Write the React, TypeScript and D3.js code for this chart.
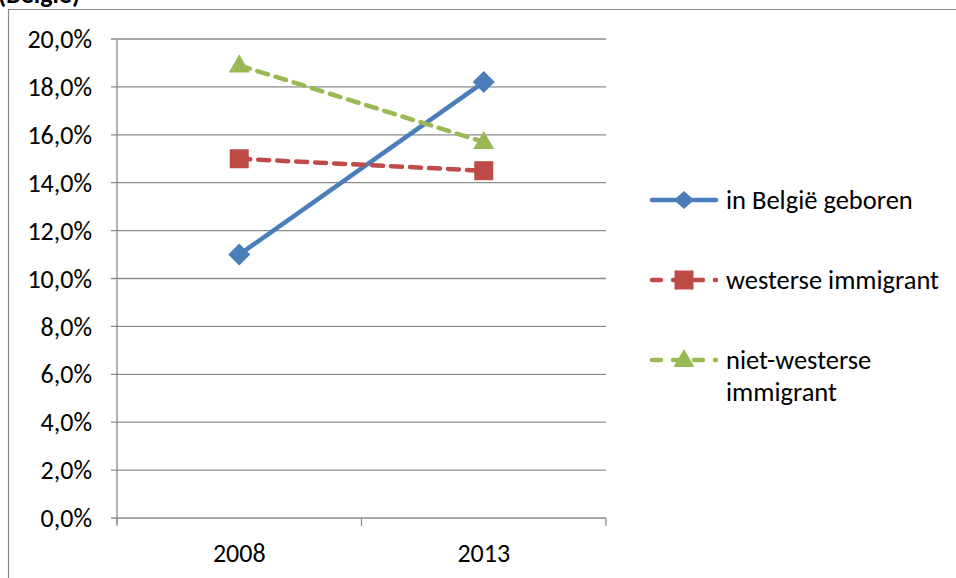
import React from "react";
import * as d3 from "d3";

const categories = ["2008", "2013"];
const seriesNames = ["in België geboren", "westerse immigrant", "niet-westerse immigrant"];
const belgieGeboren = [11.0, 18.2];
const westerseImmigrant = [15.0, 14.5];
const nietWesterseImmigrant = [18.9, 15.7];
const yTicks = [0, 2, 4, 6, 8, 10, 12, 14, 16, 18, 20];
const titleText = "(België)";

const W = 956;
const H = 578;
const FONT = "Calibri, Carlito, 'Open Sans', 'Liberation Sans', sans-serif";

export default function App() {
  const x = d3.scaleBand<string>().domain(categories).range([117, 606]);
  const y = d3.scaleLinear().domain([0, 20]).range([518, 39]);
  const cx = (c: string) => (x(c) as number) + x.bandwidth() / 2;

  const series = [
    { name: seriesNames[0], values: belgieGeboren, color: "#4A7EBB", dash: "", marker: "diamond" },
    { name: seriesNames[1], values: westerseImmigrant, color: "#BE4B48", dash: "11,8", marker: "square" },
    { name: seriesNames[2], values: nietWesterseImmigrant, color: "#98B954", dash: "11,8", marker: "triangle" },
  ];

  const line = d3
    .line<number>()
    .x((_, i) => cx(categories[i]))
    .y((d) => y(d));

  const marker = (type: string, px: number, py: number, color: string, key: string, legend = false) => {
    if (type === "diamond") {
      const hw = legend ? 10 : 11;
      const hh = legend ? 9 : 11;
      const d = `M${px},${py - hh}L${px + hw},${py}L${px},${py + hh}L${px - hw},${py}Z`;
      return <path key={key} d={d} fill={color} />;
    }
    if (type === "square") {
      return <rect key={key} x={px - 9.5} y={py - 9.5} width={19} height={19} fill={color} />;
    }
    const s = d3.symbol(d3.symbolTriangle, 190)();
    return <path key={key} d={s as string} transform={`translate(${px},${py + 1})`} fill={color} />;
  };

  const legendY = [200, 280, 360];
  const fs = 26;

  return (
    <svg
      width={W}
      height={H}
      style={{ position: "absolute", left: 0, top: 0, background: "#fff" }}
      fontFamily={FONT}
    >
      <rect x={0} y={0} width={W} height={H} fill="#fff" />
      <text x={-2} y={3} fontSize={26} fontWeight="bold" fill="#000">
        {titleText}
      </text>
      <path d={`M8.5,${H + 2}V9.5H${W + 2}`} fill="none" stroke="#868686" strokeWidth={1.2} />

      {/* gridlines */}
      {yTicks.map((t) => (
        <line
          key={t}
          x1={111}
          x2={606}
          y1={y(t)}
          y2={y(t)}
          stroke="#8C8C8C"
          strokeWidth={1.3}
        />
      ))}
      {/* y axis */}
      <line x1={117} x2={117} y1={y(20)} y2={y(0) + 6} stroke="#8C8C8C" strokeWidth={1.3} />
      {/* x ticks */}
      {[...categories.map((c) => x(c) as number), 606].map((v, i) => (
        <line key={i} x1={v} x2={v} y1={y(0)} y2={y(0) + 8} stroke="#8C8C8C" strokeWidth={1.3} />
      ))}
      {yTicks.map((t) => (
        <text key={t} x={92} y={y(t)} dy="0.35em" textAnchor="end" fontSize={fs} fill="#000">
          {t.toFixed(1).replace(".", ",")}%
        </text>
      ))}
      {categories.map((c) => (
        <text key={c} x={cx(c)} y={562} textAnchor="middle" fontSize={fs} fill="#000">
          {c}
        </text>
      ))}

      {series.map((s) => (
        <g key={s.name}>
          <path
            d={line(s.values) as string}
            fill="none"
            stroke={s.color}
            strokeWidth={4.5}
            strokeDasharray={s.dash || undefined}
            strokeLinecap="round"
          />
          {s.values.map((v, i) => marker(s.marker, cx(categories[i]), y(v), s.color, s.name + i))}
        </g>
      ))}

      {/* legend */}
      {series.map((s, i) => {
        const ly = legendY[i];
        return (
          <g key={s.name}>
            <line
              x1={652}
              x2={716}
              y1={ly}
              y2={ly}
              stroke={s.color}
              strokeWidth={4.5}
              strokeLinecap="round"
              strokeDasharray={s.dash ? "9,12" : undefined}
            />
            {marker(s.marker, 684, ly, s.color, "lg" + i, true)}
            {i < 2 ? (
              <text x={726} y={ly} dy="0.35em" fontSize={26.5} fill="#000">
                {s.name}
              </text>
            ) : (
              <text x={726} y={ly} dy="0.35em" fontSize={26.5} fill="#000">
                <tspan x={726}>niet-westerse</tspan>
                <tspan x={726} dy={32}>immigrant</tspan>
              </text>
            )}
          </g>
        );
      })}
    </svg>
  );
}
